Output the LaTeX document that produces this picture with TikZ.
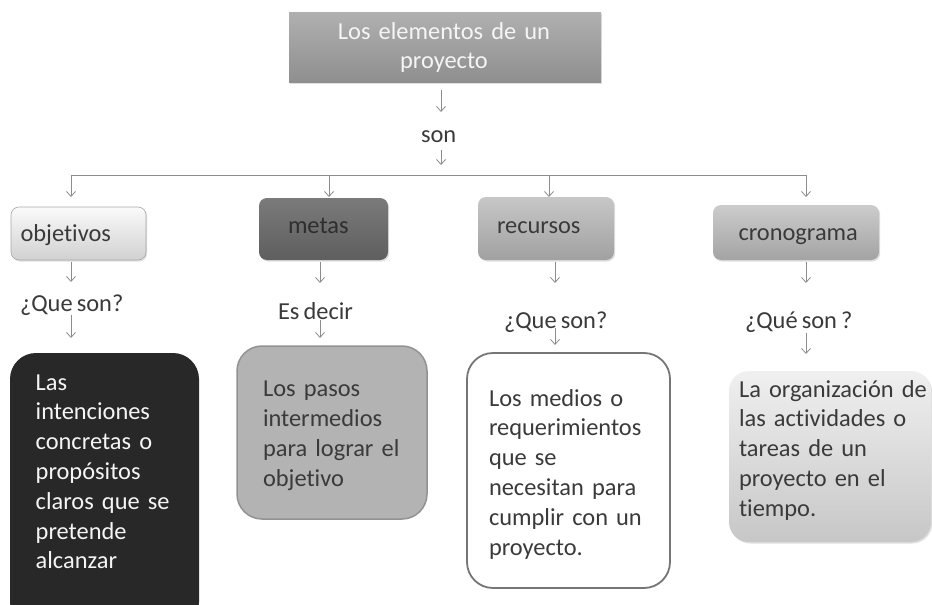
\documentclass[tikz,border=0pt]{standalone}
\usepackage{fontspec}
\setmainfont{Carlito}[Ligatures=NoCommon, WordSpace=0.75]
\usetikzlibrary{arrows.meta,shadows}
\definecolor{argray}{HTML}{8C8C8C}
\definecolor{txt}{HTML}{3A3A3A}
\definecolor{darkbox}{HTML}{282828}
\definecolor{metabg}{HTML}{B3B3B3}
\definecolor{metaborder}{HTML}{929292}
\definecolor{recborder}{HTML}{767676}
\tikzset{
  arr/.style={draw=argray, line width=0.8pt, -{Straight Barb[length=5pt,width=9pt]}},
  ln/.style={draw=argray, line width=0.8pt},
  txtnode/.style={inner sep=0pt, outer sep=0pt, font=\fontsize{24.4}{29.8}\selectfont, text=txt},
  lbl/.style={txtnode, text height=17pt, text depth=5pt, anchor=base west},
  para/.style={txtnode, text width=200pt, align=left, anchor=base west},
  boxbase/.style={anchor=north west, inner sep=0pt, outer sep=0pt},
  soft/.style={drop shadow={opacity=0.25, shadow xshift=1.2pt, shadow yshift=-1.5pt}},
}
\begin{document}
\begin{tikzpicture}[x=1pt,y=-1pt]
\path[clip] (0,0) rectangle (932,605);
\fill[white] (0,0) rectangle (932,605);

% column coordinates
\coordinate (cs) at (441,175);
\coordinate (c1) at (71,175);
\coordinate (c2b) at (329,175);
\coordinate (c3b) at (549,175);
\coordinate (c4) at (806,175);
\coordinate (c2) at (320,175);
\coordinate (c3) at (555,175);

% title
\node[boxbase, minimum width=312pt, minimum height=70pt, top color=black!31, bottom color=black!44, soft] (top) at (289,12) {};
\node[txtnode, text=white!96!black, text width=300pt, align=center, anchor=base] (toptxt) at (444,39) {Los elementos de un\\proyecto};

\node[lbl] (son) at (421,142) {son};

% first-row boxes
\node[boxbase, minimum width=135pt, minimum height=53pt, rounded corners=8pt, top color=black!2, bottom color=black!18, draw=black!34, line width=0.6pt, soft] (obj) at (11,207) {};
\node[boxbase, minimum width=129pt, minimum height=62pt, rounded corners=8pt, top color=black!52, bottom color=black!63, soft] (met) at (259,198) {};
\node[boxbase, minimum width=136pt, minimum height=63pt, rounded corners=8pt, top color=black!22, bottom color=black!37, soft] (rec) at (478,197) {};
\node[boxbase, minimum width=166pt, minimum height=55pt, rounded corners=8pt, top color=black!20, bottom color=black!36, soft] (cro) at (713,205) {};

\node[lbl] (tobj) at (20.5,241) {objetivos};
\node[lbl, text=black!82] (tmet) at (288,233) {metas};
\node[lbl] (trec) at (497,233) {recursos};
\node[lbl] (tcro) at (738.5,240) {cronograma};

% question labels
\node[lbl] (q1) at (20,311.7) {¿Que son?};
\node[lbl] (q2) at (278,319.3) {Es decir};
\node[lbl] (q3) at (504,328.3) {¿Que son?};
\node[lbl] (q4) at (745,328) {¿Qué son ?};

% second-row boxes
\node[boxbase, minimum width=189pt, minimum height=275pt, rounded corners=26pt, fill=darkbox] (dobj) at (10,353) {};
\node[boxbase, minimum width=190pt, minimum height=173pt, rounded corners=25pt, fill=metabg, draw=metaborder, line width=1.5pt] (dmet) at (237,346) {};
\node[boxbase, minimum width=203pt, minimum height=235pt, rounded corners=26pt, fill=white, draw=recborder, line width=1.8pt] (drec) at (467,353) {};
\node[boxbase, minimum width=202pt, minimum height=171pt, rounded corners=20pt, top color=black!6, bottom color=black!22, soft] (dcro) at (729,371) {};

\node[para, text=white!96!black] (tdobj) at (35.7,390) {Las\\intenciones\\concretas o\\propósitos\\claros que se\\pretende\\alcanzar};
\node[para] (tdmet) at (263,396.7) {Los pasos\\intermedios\\para lograr el\\objetivo};
\node[para] (tdrec) at (489,406) {Los medios o\\requerimientos\\que se\\necesitan para\\cumplir con un\\proyecto.};
\node[para] (tdcro) at (739,397) {La organización de\\las actividades o\\tareas de un\\proyecto en el\\tiempo.};

% connectors
\draw[arr, shorten <=8pt, shorten >=13pt] (top.south -| cs) -- (cs |- son.north);
\draw[arr, shorten <=3pt, shorten >=10pt] (cs |- son.south) -- (cs);
\draw[ln] (c1) -- (c4);
\draw[arr, shorten >=10pt] (c1) -- (c1 |- obj.north);
\draw[arr, shorten >=1pt] (c2b) -- (c2b |- met.north);
\draw[arr] (c3b) -- (c3b |- rec.north);
\draw[arr, shorten >=8pt] (c4) -- (c4 |- cro.north);

\draw[arr, shorten <=2pt, shorten >=12.7pt] (obj.south -| c1) -- (c1 |- q1.north);
\draw[arr, shorten <=2pt, shorten >=19.3pt] (met.south -| c2) -- (c2 |- q2.north);
\draw[arr, shorten <=2pt, shorten >=28.3pt] (rec.south -| c3) -- (c3 |- q3.north);
\draw[arr, shorten <=2pt, shorten >=28pt] (cro.south -| c4) -- (c4 |- q4.north);

\draw[arr, shorten <=3.3pt, shorten >=15pt] (q1.base -| c1) -- (c1 |- dobj.north);
\draw[arr, shorten <=0.7pt, shorten >=8pt] (q2.base -| c2) -- (c2 |- dmet.north);
\draw[arr, shorten >=8pt] (q3.base -| c3) -- (c3 |- drec.north);
\draw[arr, shorten <=5pt, shorten >=17pt] (q4.base -| c4) -- (c4 |- dcro.north);
\end{tikzpicture}
\end{document}
